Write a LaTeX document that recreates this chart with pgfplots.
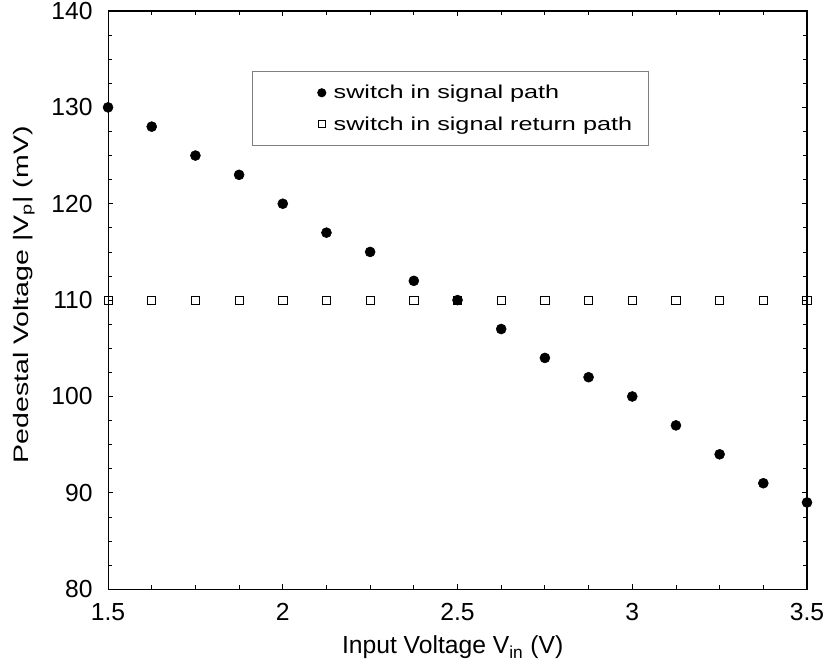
\documentclass[border=0pt]{standalone}
\usepackage{pgfplots}
\usepackage{fontspec}
\setmainfont{Liberation Sans}
\newfontfamily\widefont[FakeStretch=1.36]{Liberation Sans}
\newfontfamily\legfont[FakeStretch=1.35]{Liberation Sans}
\pgfplotsset{compat=1.18}
\pgfplotsset{
    legcirc/.style={legend image code/.code={\path (-41.5pt,0pt) (6.5pt,0pt);
        \draw[##1, mark size=3pt] plot coordinates {(0pt,0pt)};}},
    legsq/.style={legend image code/.code={\path (-41.5pt,0pt) (6.5pt,0pt);
        \draw[##1, mark size=2.6pt] plot coordinates {(0pt,0pt)};}},
}

\begin{document}
\begin{tikzpicture}
\begin{axis}[
    name=ax,
    scale only axis,
    width=524pt, height=433.5pt,
    xmin=1.5, xmax=3.5, ymin=80, ymax=140,
    xtick={1.5,2,...,3.5},
    ytick={80,90,...,140},
    minor x tick num=3,
    minor y tick num=3,
    tick align=inside,
    major tick length=4pt,
    minor tick length=3pt,
    /pgf/number format/assume math mode=true,
    tick label style={font=\fontsize{18.5}{20}\selectfont},
    xticklabel style={/pgf/number format/fixed, /pgf/number format/precision=1, yshift=-7pt},
    yticklabel style={xshift=-8pt},
    xlabel={Input Voltage V\textsubscript{in} (V)},
    ylabel={\widefont Pedestal Voltage |V\textsubscript{p}| (mV)},
    xlabel style={font=\fontsize{18.5}{20}\selectfont,
        at={(axis description cs:0.493,-0.1)}, anchor=center},
    ylabel style={font=\fontsize{15.7}{18}\selectfont,
        at={(axis description cs:-0.12,0.509)}, anchor=center},
    axis line style={line width=0.8pt},
    every tick/.style={black, line width=0.6pt},
    clip=false,
    legend style={
        at={(0.206,0.896)}, anchor=north west,
        draw=gray, line width=0.8pt,
        font=\legfont\fontsize{14}{16}\selectfont,
        inner xsep=10pt, inner ysep=8pt,
        row sep=8pt,
    },
    legend cell align=left,
]
\addplot[only marks, mark=*, mark size=3.75pt, black, legcirc] coordinates {
(1.5,130) (1.625,128) (1.75,125) (1.875,123) (2,120) (2.125,117) (2.25,115)
(2.375,112) (2.5,110) (2.625,107) (2.75,104) (2.875,102) (3,100) (3.125,97)
(3.25,94) (3.375,91) (3.5,89)
};
\addlegendentry{switch in signal path}
\addplot[only marks, mark=square, mark size=3.1pt, black, mark options={line width=0.6pt}, legsq] coordinates {
(1.5,110) (1.625,110) (1.75,110) (1.875,110) (2,110) (2.125,110) (2.25,110)
(2.375,110) (2.5,110) (2.625,110) (2.75,110) (2.875,110) (3,110) (3.125,110)
(3.25,110) (3.375,110) (3.5,110)
};
\addlegendentry{switch in signal return path}
\end{axis}
\pgfresetboundingbox
\path ([xshift=-81pt,yshift=-58.5pt]ax.south west) rectangle ([xshift=15pt,yshift=8.25pt]ax.north east);
\end{tikzpicture}
\end{document}
